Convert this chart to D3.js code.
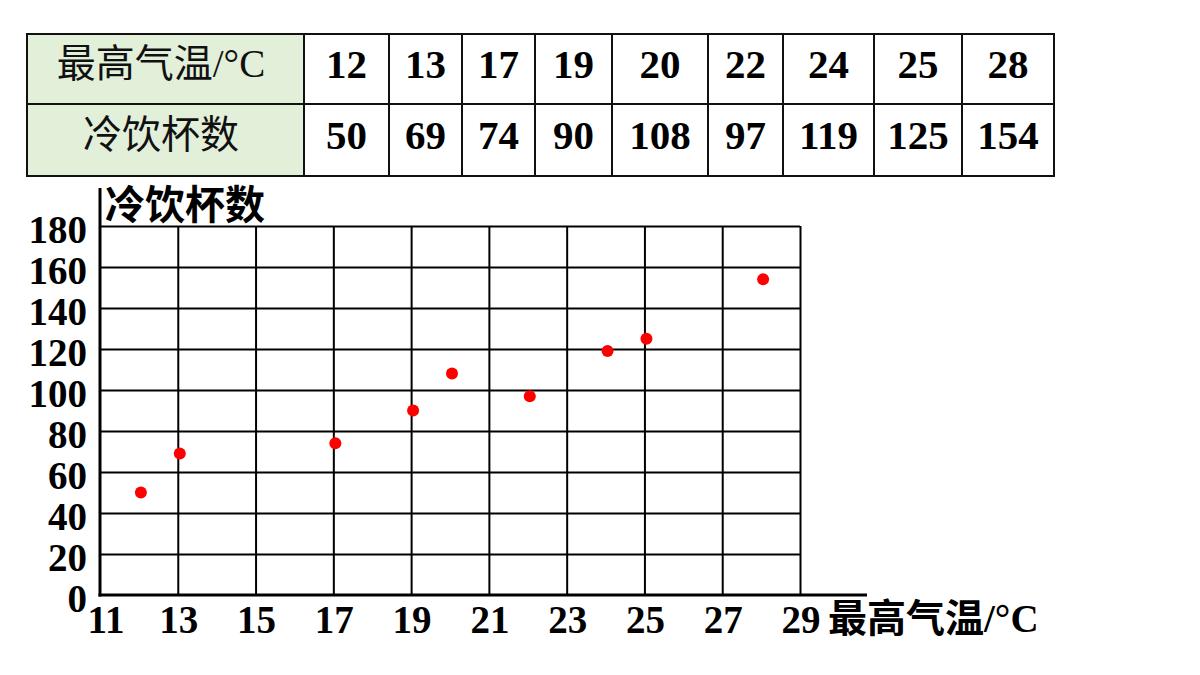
<!DOCTYPE html>
<html>
<head>
<meta charset="utf-8">
<script src="https://cdn.jsdelivr.net/npm/d3@7"></script>
<style>
  body { margin: 0; background: #fff; }
  svg { display: block; }
</style>
</head>
<body>
<div id="chart"></div>
<script>
const temps = [12, 13, 17, 19, 20, 22, 24, 25, 28];
const cups = [50, 69, 74, 90, 108, 97, 119, 125, 154];
const rowLabels = ['最高气温', '冷饮杯数'];
const xTicks = [11, 13, 15, 17, 19, 21, 23, 25, 27, 29];
const yTicks = [0, 20, 40, 60, 80, 100, 120, 140, 160, 180];

const width = 1200;
const height = 675;

const svg = d3.select('#chart')
  .append('svg')
  .attr('width', width)
  .attr('height', height);

const serif = '"Liberation Serif", "Times New Roman", serif';
const cjk = '"Noto Sans CJK SC", sans-serif';

// ---------- table ----------
const colEdges = [27, 304, 389, 462, 535, 612, 708, 783, 874, 962, 1054];
const rowEdges = [34, 104, 176];
const table = svg.append('g');

table.append('rect')
  .attr('x', colEdges[0]).attr('y', rowEdges[0])
  .attr('width', colEdges[1] - colEdges[0])
  .attr('height', rowEdges[2] - rowEdges[0])
  .attr('fill', '#e2efd9');

const rows = [temps, cups];
const baselines = [78, 149];
rows.forEach((vals, r) => {
  const lbl = table.append('text')
    .attr('x', 161)
    .attr('y', baselines[r] - 1)
    .attr('text-anchor', 'middle')
    .attr('font-family', cjk)
    .attr('font-size', 39)
    .attr('fill', '#111');
  lbl.append('tspan').text(rowLabels[r]);
  if (r === 0) {
    lbl.append('tspan').attr('font-family', serif).text('/°C');
  }
  table.selectAll(null)
    .data(vals)
    .enter()
    .append('text')
    .attr('x', (d, i) => (colEdges[i + 1] + colEdges[i + 2]) / 2)
    .attr('y', baselines[r])
    .attr('text-anchor', 'middle')
    .attr('font-family', serif)
    .attr('font-weight', 'bold')
    .attr('font-size', 41)
    .attr('fill', '#000')
    .text(d => d);
});

table.selectAll('line.v')
  .data(colEdges)
  .enter()
  .append('line')
  .attr('x1', d => d).attr('x2', d => d)
  .attr('y1', rowEdges[0]).attr('y2', rowEdges[2])
  .attr('stroke', '#111').attr('stroke-width', 2);

table.selectAll('line.h')
  .data(rowEdges)
  .enter()
  .append('line')
  .attr('x1', colEdges[0] - 1).attr('x2', colEdges[colEdges.length - 1] + 1)
  .attr('y1', d => d).attr('y2', d => d)
  .attr('stroke', '#111').attr('stroke-width', 2);

// ---------- scatter chart ----------
const xScale = d3.scaleLinear().domain([11, 29]).range([100, 800]);
const yScale = d3.scaleLinear().domain([0, 180]).range([595, 226]);

// grid
svg.append('g')
  .attr('transform', `translate(0,${yScale(0)})`)
  .call(d3.axisBottom(xScale).tickValues(xTicks.slice(1))
    .tickSize(-(yScale(0) - yScale(180))).tickFormat(''))
  .call(g => g.select('.domain').remove())
  .call(g => g.selectAll('.tick line').attr('stroke', '#000').attr('stroke-width', 2));

svg.append('g')
  .attr('transform', `translate(${xScale(11)},0)`)
  .call(d3.axisLeft(yScale).tickValues(yTicks.slice(1))
    .tickSize(-(xScale(29) - xScale(11))).tickFormat(''))
  .call(g => g.select('.domain').remove())
  .call(g => g.selectAll('.tick line').attr('stroke', '#000').attr('stroke-width', 2));

// axes lines
svg.append('line')
  .attr('x1', xScale(11)).attr('x2', xScale(11))
  .attr('y1', 188).attr('y2', yScale(0) + 1.5)
  .attr('stroke', '#000').attr('stroke-width', 3);
svg.append('line')
  .attr('x1', xScale(11) - 1.5).attr('x2', 867)
  .attr('y1', yScale(0)).attr('y2', yScale(0))
  .attr('stroke', '#000').attr('stroke-width', 3);

// tick labels
svg.selectAll('text.ytick')
  .data(yTicks)
  .enter()
  .append('text')
  .attr('class', 'ytick')
  .attr('x', 87)
  .attr('y', d => yScale(d) + 17)
  .attr('text-anchor', 'end')
  .attr('font-family', serif)
  .attr('font-weight', 'bold')
  .attr('font-size', 39)
  .text(d => d);

svg.selectAll('text.xtick')
  .data(xTicks)
  .enter()
  .append('text')
  .attr('class', 'xtick')
  .attr('x', (d, i) => xScale(d) + (i === 0 ? 6 : 1))
  .attr('y', 633)
  .attr('text-anchor', 'middle')
  .attr('font-family', serif)
  .attr('font-weight', 'bold')
  .attr('font-size', 39)
  .text(d => d);

// axis titles
svg.append('text')
  .attr('x', 105)
  .attr('y', 219)
  .attr('font-family', cjk)
  .attr('font-weight', 'bold')
  .attr('font-size', 40)
  .text('冷饮杯数');

const xTitle = svg.append('text')
  .attr('x', 828)
  .attr('y', 632)
  .attr('font-family', cjk)
  .attr('font-weight', 'bold')
  .attr('font-size', 39);
xTitle.append('tspan').text('最高气温');
xTitle.append('tspan').attr('font-family', serif).text('/°C');

// points
svg.append('g')
  .attr('transform', 'translate(2,0)')
  .selectAll('circle')
  .data(temps.map((t, i) => ({ t, c: cups[i] })))
  .enter()
  .append('circle')
  .attr('cx', d => xScale(d.t))
  .attr('cy', d => yScale(d.c))
  .attr('r', 6)
  .attr('fill', '#ff0000');
</script>
</body>
</html>
